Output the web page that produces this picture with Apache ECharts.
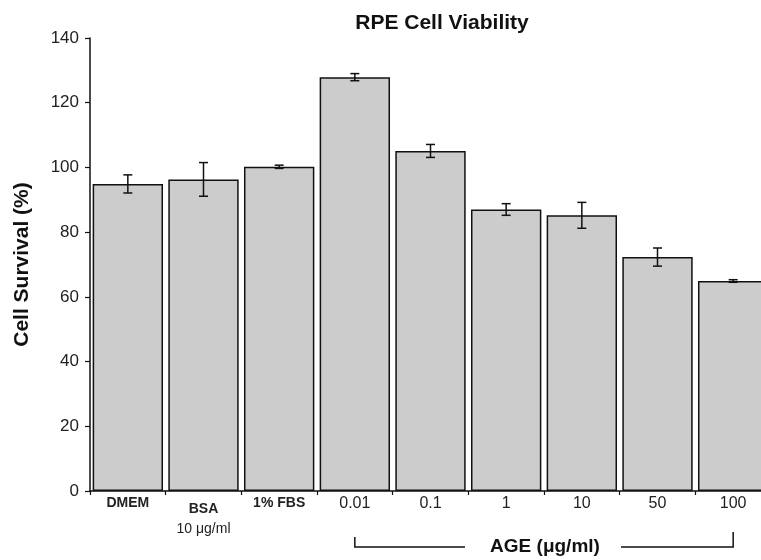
<!DOCTYPE html>
<html>
<head>
<meta charset="utf-8">
<script src="https://cdn.jsdelivr.net/npm/echarts@6/dist/echarts.min.js"></script>
<style>
  html, body { margin: 0; padding: 0; background: #fff; }
  #myechart { width: 761px; height: 560px; }
</style>
</head>
<body>
<div id="myechart"></div>
<script>
var categories = ['DMEM', 'BSA\n10 μg/ml', '1% FBS', '0.01', '0.1', '1', '10', '50', '100'];
var survival = [94.9, 96.3, 100.2, 127.9, 105.1, 87.0, 85.2, 72.3, 64.9];
var errors = [2.8, 5.2, 0.5, 1.1, 2.0, 1.8, 4.0, 2.8, 0.4];
var yTicks = [0, 20, 40, 60, 80, 100, 120, 140];

var FONT = '"Liberation Sans", Arial, sans-serif';

var errData = survival.map(function (v, i) {
  return [i, v - errors[i], v + errors[i]];
});

var myechart = echarts.init(document.getElementById('myechart'));

var option = {
  animation: false,
  backgroundColor: '#fff',
  title: {
    text: 'RPE Cell Viability',
    left: 437,
    textAlign: 'center',
    top: 8,
    textStyle: { fontFamily: FONT, fontSize: 21, fontWeight: 'bold', color: '#111' }
  },
  // the last bar runs past the right edge of the picture
  grid: { left: 90, width: 681, top: 38, bottom: 69, outerBoundsMode: 'none' },
  xAxis: {
    type: 'category',
    data: categories,
    axisLine: { lineStyle: { color: '#111', width: 1.5 } },
    axisTick: { show: true, length: 4, lineStyle: { color: '#111', width: 1.2 } },
    axisLabel: {
      interval: 0,
      margin: 5,
      fontFamily: FONT,
      formatter: function (val, i) {
        var parts = val.split('\n');
        if (parts.length > 1) return '{bt|' + parts[0] + '}\n{n|' + parts[1] + '}';
        if (i < 3) return '{b|' + val + '}';
        return '{num|' + val + '}';
      },
      rich: {
        b: { fontFamily: FONT, fontSize: 14, fontWeight: 'bold', color: '#222', lineHeight: 15 },
        bt: { fontFamily: FONT, fontSize: 14, fontWeight: 'bold', color: '#222', lineHeight: 26 },
        n: { fontFamily: FONT, fontSize: 14, color: '#222', lineHeight: 14 },
        num: { fontFamily: FONT, fontSize: 16, color: '#222', lineHeight: 15 }
      }
    }
  },
  yAxis: {
    type: 'value',
    min: 0,
    max: 140,
    interval: 20,
    name: 'Cell Survival (%)',
    nameLocation: 'middle',
    nameGap: 57,
    nameTextStyle: { fontFamily: FONT, fontSize: 21, fontWeight: 'bold', color: '#111' },
    axisLine: { show: true, lineStyle: { color: '#111', width: 1.5 } },
    axisTick: { show: true, length: 5, lineStyle: { color: '#111', width: 1.2 } },
    splitLine: { show: false },
    axisLabel: {
      fontFamily: FONT, fontSize: 17, color: '#222', margin: 11,
      formatter: function (v) { return yTicks.indexOf(v) >= 0 ? String(v) : ''; }
    }
  },
  series: [
    {
      type: 'bar',
      data: survival,
      barCategoryGap: '7%',
      itemStyle: { color: '#cccccc', borderColor: '#111', borderWidth: 1.5 }
    },
    {
      type: 'custom',
      data: errData,
      z: 5,
      renderItem: function (params, api) {
        var x = api.value(0);
        var lo = api.coord([x, api.value(1)]);
        var hi = api.coord([x, api.value(2)]);
        var cap = 4.5;
        var st = { stroke: '#111', lineWidth: 1.5 };
        return {
          type: 'group',
          children: [
            { type: 'line', shape: { x1: lo[0], y1: lo[1], x2: hi[0], y2: hi[1] }, style: st },
            { type: 'line', shape: { x1: lo[0] - cap, y1: lo[1], x2: lo[0] + cap, y2: lo[1] }, style: st },
            { type: 'line', shape: { x1: hi[0] - cap, y1: hi[1], x2: hi[0] + cap, y2: hi[1] }, style: st }
          ]
        };
      }
    }
  ]
};

myechart.setOption(option);

// bracket under the AGE groups, placed from the category centres
var p0 = myechart.convertToPixel({ xAxisIndex: 0 }, 3);
var p1 = myechart.convertToPixel({ xAxisIndex: 0 }, 8);
var by = 547;
var mid = (p0 + p1) / 2;
var lineStyle = { stroke: '#111', lineWidth: 1.5 };
myechart.setOption({
  graphic: [
    { type: 'polyline', shape: { points: [[p0, by - 10], [p0, by], [mid - 79, by]] }, style: lineStyle },
    { type: 'polyline', shape: { points: [[mid + 77, by], [p1, by], [p1, by - 15]] }, style: lineStyle },
    {
      type: 'text', x: mid + 1, y: by,
      style: { text: 'AGE (μg/ml)', fontFamily: FONT, fontSize: 19, fontWeight: 'bold', fill: '#111', align: 'center', verticalAlign: 'middle' }
    }
  ]
});
</script>
</body>
</html>
